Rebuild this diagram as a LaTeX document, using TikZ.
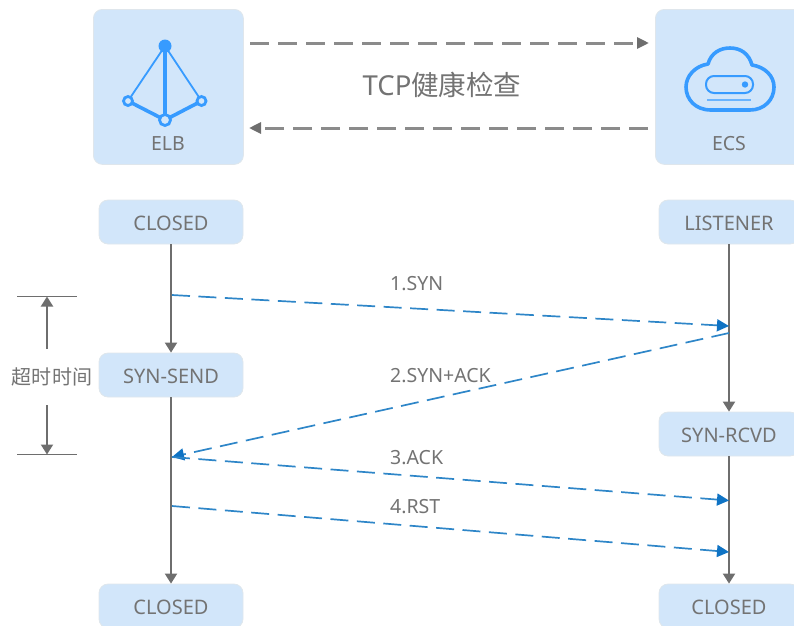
\documentclass[tikz,border=0pt]{standalone}
\usepackage{fontspec}
\setmainfont{Noto Sans}
\newfontfamily\cjk{Noto Sans CJK SC}
\usetikzlibrary{arrows.meta}
\definecolor{boxfill}{HTML}{D2E6FA}
\definecolor{boxedge}{HTML}{DFE6EC}
\definecolor{txt}{HTML}{737373}
\definecolor{lineg}{HTML}{6E6E6E}
\definecolor{dashblue}{HTML}{2E86C8}
\definecolor{tipblue}{HTML}{0F73C4}
\definecolor{iconblue}{HTML}{379BFF}
\tikzset{
 x=1pt,y=-1pt,
 bigbox/.style={draw=boxedge,line width=0.8pt,fill=boxfill,rounded corners=9pt,minimum width=150pt,minimum height=155pt,inner sep=0pt},
 statebox/.style={draw=boxedge,line width=0.8pt,fill=boxfill,rounded corners=9pt,minimum width=144pt,minimum height=44pt,inner sep=0pt,text=txt,text height=16pt,text depth=0pt,font=\fontsize{20}{22}\selectfont},
 rightbox/.style={statebox,minimum width=140pt},
 txtlabel/.style={text=txt,inner sep=0pt,font=\fontsize{19.5}{22}\selectfont},
 flow/.style={draw=lineg,line width=2pt,-{Triangle[length=10pt,width=12pt,color=lineg,fill=lineg]}},
 plainline/.style={draw=lineg,line width=1.7pt},
 grayflow/.style={draw=lineg!80,line width=3pt,dash pattern=on 19pt off 9pt,-{Triangle[length=12pt,width=11pt,color=lineg,fill=lineg]}},
 msg/.style={draw=dashblue,line width=1.7pt,dash pattern=on 18pt off 8.5pt,-{Triangle[length=12pt,width=12pt,color=tipblue,fill=tipblue]}},
 iconthick/.style={draw=iconblue,line width=3.6pt},
 iconthin/.style={draw=iconblue,line width=1.8pt},
}
\begin{document}
\begin{tikzpicture}
\useasboundingbox (0,0) rectangle (794,625);
\clip (0,0) rectangle (794,625);
% top boxes
\node[bigbox,anchor=north west] (elb) at (93,9) {};
\node[bigbox,anchor=north west] (ecs) at (655,9) {};
\node[txtlabel] (elbt) at (168,144) {ELB};
\node[txtlabel] (ecst) at (729,144) {ECS};
% ELB icon
\coordinate (top) at (165,46);
\coordinate (bl) at (128,101);
\coordinate (bm) at (165,120);
\coordinate (br) at (201.5,101);
\draw[iconthin] (top) -- (bl);
\draw[iconthin] (top) -- (br);
\draw[iconthick] (top) -- (bm);
\draw[iconthick] (bl) -- (bm) -- (br);
\fill[iconblue] (top) circle (6.5pt);
\draw[iconblue,line width=2.8pt,fill=boxfill] (bl) circle (4.5pt);
\draw[iconblue,line width=2.8pt,fill=boxfill] (br) circle (4.5pt);
\draw[iconblue,line width=2.8pt,fill=boxfill] (bm) circle (5.5pt);
% ECS icon
\draw[iconblue,line width=3.6pt,line join=round]
 (711,110) .. controls (695,110) and (686,99) .. (686,87)
 .. controls (686,76) and (695,66) .. (708,64)
 .. controls (711,53) and (720,48) .. (730,48)
 .. controls (741,48) and (749,54) .. (752,65)
 .. controls (765,67) and (774,76) .. (774,87)
 .. controls (774,100) and (764,110) .. (750,110) -- cycle;
\draw[iconblue,line width=2pt,rounded corners=8pt] (706,76) rectangle (753,93);
\fill[iconblue] (745,84.5) circle (3.2pt);
\draw[iconblue!75,line width=2pt] (707,100) -- (751,100);
% top arrows
\coordinate (a1s) at (250,43);
\coordinate (a1e) at (649,43);
\coordinate (a2s) at (648,128);
\coordinate (a2e) at (249,128);
\draw[grayflow] (a1s) -- (a1e);
\draw[grayflow] (a2s) -- (a2e);
\node[text=txt,inner sep=0pt,font=\fontsize{27.5}{30}\selectfont] (tcp) at (442,85) {TCP{\cjk 健康检查}};
% state boxes
\node[statebox] (c1) at (171,222) {CLOSED};
\node[rightbox] (lis) at (729,222) {LISTENER};
\node[statebox] (send) at (171,375) {SYN-SEND};
\node[rightbox] (rcvd) at (729,434) {SYN-RCVD};
\node[statebox] (c2) at (171,606) {CLOSED};
\node[rightbox] (c3) at (729,606) {CLOSED};
% lifelines
\draw[flow] (c1) -- (send);
\draw[flow] (send) -- (c2);
\draw[flow] (lis) -- (rcvd);
\draw[flow] (rcvd) -- (c3);
% messages
\coordinate (m1s) at (172,295);
\coordinate (m1e) at (729,326);
\coordinate (m2s) at (729,333);
\coordinate (m2e) at (172,457);
\coordinate (m3s) at (172,457);
\coordinate (m3e) at (729,500.5);
\coordinate (m4s) at (172,506);
\coordinate (m4e) at (729,552);
\draw[msg] (m1s) -- (m1e);
\draw[msg] (m2s) -- (m2e);
\draw[msg] (m3s) -- (m3e);
\draw[msg] (m4s) -- (m4e);
\node[txtlabel,anchor=west] (l1) at (390,284) {1.SYN};
\node[txtlabel,anchor=west] (l2) at (390,376) {2.SYN+ACK};
\node[txtlabel,anchor=west] (l3) at (390,458) {3.ACK};
\node[txtlabel,anchor=west] (l4) at (390,507) {4.RST};
% timeout
\coordinate (t1a) at (17,296.5);
\coordinate (t1b) at (77,296.5);
\coordinate (t2a) at (17,454.5);
\coordinate (t2b) at (77,454.5);
\draw[plainline] (t1a) -- (t1b);
\draw[plainline] (t2a) -- (t2b);
\node[text=txt,inner sep=0pt,font=\fontsize{20}{22}\selectfont\cjk] (tt) at (52,377) {超时时间};
\coordinate (t1m) at (47,296.5);
\coordinate (t2m) at (47,454.5);
\coordinate (t1f) at (47,349);
\coordinate (t2f) at (47,405);
\draw[flow] (t1f) -- (t1m);
\draw[flow] (t2f) -- (t2m);
\end{tikzpicture}
\end{document}
